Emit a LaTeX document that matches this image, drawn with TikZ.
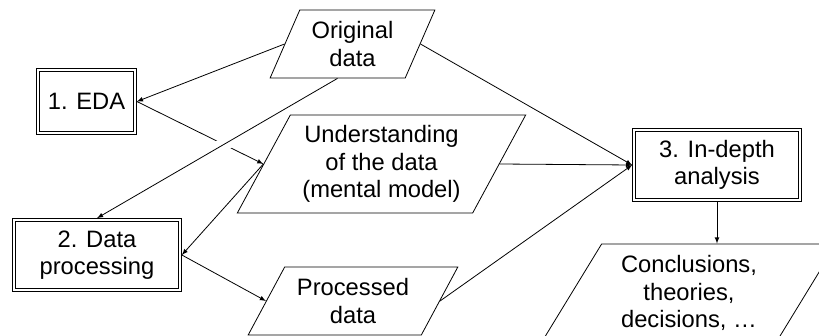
\documentclass[tikz,border=0pt]{standalone}
\usepackage{fontspec}
\setmainfont{Liberation Sans}
\usetikzlibrary{shapes.geometric,arrows}

\tikzset{
  every node/.style={font=\fontsize{17.8}{20.6}\selectfont},
  stepbox/.style={draw, double, double distance=1.5pt, line width=0.6pt, outer sep=1.4pt, inner sep=2pt, align=center},
  datanode/.style={draw, trapezium, trapezium stretches=true, trapezium left angle=#1, trapezium right angle={180-#1}, line width=0.6pt, inner sep=2pt, align=center},
  flow/.style={-latex, line width=0.6pt}
}

\begin{document}
\begin{tikzpicture}[x=0.75pt, y=-0.75pt]
    \useasboundingbox (0,0) rectangle (819,336);
    \clip (0,0) rectangle (819,336);
    \node[stepbox, minimum width=72.75pt, minimum height=47.25pt] (eda) at (86.5,101.5) {1. EDA};
    \node[stepbox, minimum width=124.5pt, minimum height=52.5pt] (dataproc) at (97,255) {2. Data\\processing};
    \node[stepbox, minimum width=124.5pt, minimum height=52.5pt] (analysis) at (717,165) {3. In-depth\\analysis};
    \node[datanode=64, minimum width=123.75pt, minimum height=51pt] (orig) at (352.5,44) {Original\\data};
    \node[datanode=60, minimum width=216.75pt, minimum height=73.5pt] (understand) at (381.5,164) {Understanding\\of the data\\(mental model)};
    \node[datanode=58, minimum width=157.5pt, minimum height=51pt] (processed) at (353,301) {Processed\\data};
    \node[datanode=59, minimum width=221pt, minimum height=73.5pt] (concl) at (689,293) {Conclusions,\\theories,\\decisions, …};
    \draw[flow] (orig.west) -- (eda.east);
    \draw[flow] (eda.east) -- (understand.west);
    \draw[flow, preaction={draw=white, -, line width=10pt, shorten <=80pt, shorten >=80pt}] (orig.bottom side) -- (dataproc.north);
    \draw[flow] (understand.west) -- (dataproc.east);
    \draw[flow] (dataproc.east) -- (processed.west);
    \draw[flow] (orig.east) -- (analysis.west);
    \draw[flow] (understand.east) -- (analysis.west);
    \draw[flow] (processed.east) -- (analysis.west);
    \draw[flow] (analysis.south) -- (analysis.south |- concl.north);
\end{tikzpicture}
\end{document}
